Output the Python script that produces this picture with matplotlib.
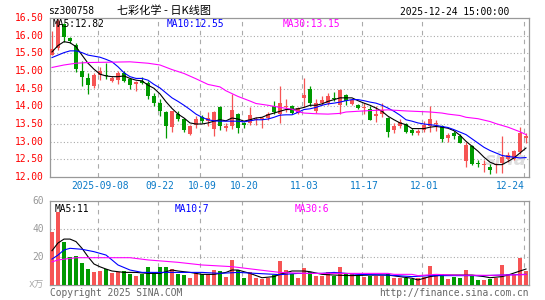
import matplotlib.pyplot as plt
import matplotlib.transforms as mtransforms

# sz300758 daily candles, 80 sessions (2025-08-27 .. 2025-12-24)
opens = [15.46, 15.64, 16.33, 15.92, 15.75, 15.00, 14.80, 14.57, 14.88, 14.89,
         14.73, 14.74, 14.95, 14.77, 14.62, 14.73, 14.67, 14.29, 14.09, 13.85,
         13.41, 13.78, 13.64, 13.22, 13.47, 13.71, 13.58, 13.35, 13.97, 13.40,
         13.43, 13.79, 13.52, 13.53, 13.60, 13.64, 13.66, 14.00, 13.77, 13.97,
         14.00, 13.82, 14.25, 14.49, 13.86, 14.10, 14.10, 14.25, 14.05, 14.31,
         14.08, 14.05, 13.96, 13.93, 13.74, 13.78, 13.68, 13.34, 13.45, 13.50,
         13.34, 13.24, 13.34, 13.44, 13.49, 13.44, 13.09, 13.24, 13.17, 12.44,
         12.89, 12.40, 12.35, 12.29, 12.34, 12.40, 12.51, 12.52, 12.70, 13.10]
highs = [16.12, 16.46, 16.36, 15.96, 15.79, 15.27, 14.94, 14.94, 15.10, 15.23,
         14.87, 15.00, 15.00, 14.80, 14.72, 14.83, 14.72, 14.38, 14.20, 13.87,
         13.88, 13.86, 13.66, 13.46, 13.74, 13.75, 13.85, 13.87, 14.00, 13.52,
         14.35, 13.82, 13.57, 13.97, 13.71, 13.69, 13.83, 14.15, 14.57, 14.22,
         14.03, 13.99, 14.81, 14.58, 14.20, 14.30, 14.39, 14.40, 14.48, 14.35,
         14.20, 14.08, 14.09, 14.00, 14.01, 14.10, 13.71, 13.54, 13.64, 13.52,
         13.38, 13.36, 13.58, 14.00, 13.62, 13.47, 13.25, 13.30, 13.22, 12.98,
         12.90, 12.48, 12.49, 12.36, 12.41, 13.16, 12.70, 12.76, 13.42, 13.24]
lows = [15.44, 15.60, 15.83, 15.79, 14.98, 14.57, 14.35, 14.52, 14.74, 14.76,
        14.68, 14.62, 14.68, 14.50, 14.44, 14.62, 14.20, 14.01, 13.73, 13.11,
        13.28, 13.58, 13.27, 13.20, 13.40, 13.53, 13.44, 13.15, 13.34, 13.29,
        13.37, 13.25, 13.40, 13.47, 13.46, 13.40, 13.60, 13.78, 13.54, 13.83,
        13.77, 13.78, 13.97, 14.00, 13.82, 14.03, 14.05, 14.14, 13.78, 14.05,
        14.03, 13.93, 13.78, 13.60, 13.57, 13.71, 13.12, 13.24, 13.40, 13.25,
        13.20, 13.18, 13.26, 13.28, 13.30, 13.00, 12.98, 13.08, 12.95, 12.29,
        12.34, 12.28, 12.15, 12.08, 12.10, 12.11, 12.42, 12.49, 12.66, 12.96]
closes = [15.62, 16.42, 15.95, 15.85, 15.07, 14.83, 14.61, 14.90, 15.00, 14.85,
          14.79, 14.95, 14.73, 14.60, 14.70, 14.67, 14.29, 14.10, 13.87, 13.43,
          13.87, 13.63, 13.34, 13.43, 13.65, 13.59, 13.66, 13.85, 13.44, 13.42,
          13.90, 13.38, 13.47, 13.75, 13.63, 13.67, 13.78, 13.84, 14.09, 14.00,
          13.80, 13.96, 14.32, 14.09, 14.09, 14.18, 14.29, 14.22, 14.46, 14.14,
          14.17, 13.96, 13.98, 13.62, 13.76, 13.89, 13.28, 13.45, 13.55, 13.28,
          13.25, 13.30, 13.48, 13.64, 13.51, 13.08, 13.19, 13.15, 12.97, 12.91,
          12.38, 12.37, 12.36, 12.19, 12.36, 12.58, 12.61, 12.74, 13.24, 13.16]
# volume, 10k shares
volumes = [38.1, 52.4, 31.0, 20.2, 20.9, 16.0, 11.4, 9.5, 10.2, 11.4,
           8.8, 9.5, 10.0, 7.6, 6.7, 7.9, 13.1, 9.5, 13.1, 13.1,
           11.4, 7.9, 7.1, 5.2, 8.3, 7.6, 7.6, 10.7, 10.0, 6.0,
           17.9, 10.7, 5.2, 9.5, 5.2, 4.3, 5.2, 7.1, 17.1, 10.7,
           7.6, 5.2, 12.4, 9.0, 6.7, 6.7, 9.0, 6.7, 13.1, 8.3,
           7.6, 7.1, 6.0, 6.7, 6.7, 6.7, 7.6, 5.2, 5.2, 4.8,
           4.3, 4.8, 6.0, 13.8, 7.1, 7.6, 4.3, 6.0, 5.2, 10.7,
           6.7, 3.6, 3.6, 4.3, 5.2, 14.3, 7.6, 7.1, 19.5, 10.0]

# moving averages
ma5 = [15.54, 15.72, 15.83, 15.80, 15.69, 15.45, 15.22, 15.05, 14.91, 14.86,
       14.84, 14.84, 14.86, 14.79, 14.74, 14.72, 14.60, 14.51, 14.35, 14.13,
       13.94, 13.78, 13.67, 13.53, 13.50, 13.50, 13.53, 13.58, 13.62, 13.59,
       13.67, 13.64, 13.58, 13.62, 13.67, 13.69, 13.76, 13.81, 13.86, 13.91,
       13.91, 13.93, 13.97, 14.03, 14.03, 14.07, 14.14, 14.19, 14.24, 14.24,
       14.24, 14.16, 14.09, 14.03, 13.95, 13.86, 13.72, 13.62, 13.53, 13.48,
       13.37, 13.37, 13.37, 13.41, 13.43, 13.41, 13.38, 13.31, 13.18, 13.01,
       12.87, 12.73, 12.56, 12.42, 12.35, 12.35, 12.44, 12.54, 12.68, 12.82]
ma10 = [15.38, 15.45, 15.52, 15.57, 15.57, 15.52, 15.45, 15.42, 15.39, 15.33,
        15.26, 15.12, 14.95, 14.84, 14.79, 14.79, 14.74, 14.62, 14.52, 14.38,
        14.24, 14.14, 14.03, 13.91, 13.78, 13.69, 13.62, 13.59, 13.58, 13.58,
        13.58, 13.58, 13.56, 13.59, 13.62, 13.62, 13.64, 13.69, 13.75, 13.76,
        13.76, 13.83, 13.91, 13.93, 13.97, 14.03, 14.07, 14.09, 14.12, 14.16,
        14.19, 14.19, 14.16, 14.12, 14.09, 14.03, 13.95, 13.86, 13.75, 13.62,
        13.58, 13.53, 13.50, 13.48, 13.46, 13.43, 13.40, 13.34, 13.27, 13.20,
        13.08, 12.96, 12.84, 12.75, 12.68, 12.61, 12.58, 12.56, 12.54, 12.55]
ma30_idx = [0, 2, 4, 6, 10, 13, 16, 18, 20, 22, 24, 26, 28, 29, 31, 33, 34, 36,
            38, 40, 41, 42, 44, 46, 48, 49, 51, 53, 56, 59, 63, 65, 66, 68, 69,
            71, 73, 74, 76, 78, 79]
ma30 = [15.10, 15.17, 15.22, 15.24, 15.25, 15.26, 15.22, 15.17, 15.04, 14.93,
        14.78, 14.62, 14.55, 14.44, 14.28, 14.15, 14.08, 14.03, 13.97, 13.92,
        13.85, 13.81, 13.79, 13.78, 13.80, 13.84, 13.86, 13.88, 13.90, 13.87,
        13.84, 13.81, 13.78, 13.74, 13.69, 13.65, 13.57, 13.51, 13.41, 13.28, 13.20]

vma5_idx = [0, 1, 2, 3, 4, 5, 6, 7, 8, 9, 10, 12, 14, 16, 18, 20, 21, 23, 25, 27,
            29, 30, 31, 33, 35, 37, 38, 40, 42, 43, 45, 47, 50, 53, 56, 60, 61, 62,
            63, 65, 67, 70, 72, 73, 75, 76, 78, 79]
vma5 = [24.5, 30.0, 32.8, 32.8, 31.0, 26.2, 20.2, 15.0, 13.0, 11.4, 10.0, 9.0,
        9.0, 8.3, 8.3, 10.7, 10.0, 9.0, 7.6, 7.6, 9.0, 10.7, 10.7, 8.3, 5.2, 6.0,
        7.6, 10.0, 10.0, 9.5, 7.6, 7.1, 6.7, 7.1, 7.1, 4.8, 3.6, 4.8, 6.0, 7.1,
        7.1, 7.1, 6.0, 5.2, 6.0, 7.1, 10.0, 11.4]
vma10_idx = [0, 1, 2, 3, 5, 7, 9, 10, 11, 13, 15, 18, 22, 25, 28, 31, 34, 38, 41,
             45, 47, 51, 56, 60, 63, 67, 72, 75, 79]
vma10 = [18.5, 21.4, 25.0, 26.2, 25.5, 23.8, 21.4, 17.9, 14.3, 10.7, 9.0, 9.0,
         9.0, 9.0, 8.3, 9.0, 8.3, 7.4, 8.3, 8.3, 9.0, 7.6, 7.1, 6.0, 6.7, 6.7,
         6.7, 7.1, 7.6]
vma30_idx = [0, 1, 4, 8, 13, 16, 21, 25, 30, 36, 38, 42, 48, 53, 56, 57, 60, 61,
             64, 67, 73, 79]
vma30 = [16.5, 17.9, 19.5, 19.5, 19.5, 17.9, 16.2, 14.3, 13.1, 10.0, 9.0, 8.3,
         8.3, 8.3, 8.3, 7.6, 7.6, 6.7, 7.6, 7.1, 6.9, 7.4]

# legend values printed on the chart
price_ma_labels = ['MA5:12.82', 'MA10:12.55', 'MA30:13.15']
vol_ma_labels = ['MA5:11', 'MA10:7', 'MA30:6']

date_idx = [8, 18, 25, 32, 42, 52, 62, 79]
date_labels = ['2025-09-08', '09-22', '10-09', '10-20', '11-03', '11-17', '12-01', '12-24']
price_ticks = [12.0, 12.5, 13.0, 13.5, 14.0, 14.5, 15.0, 15.5, 16.0, 16.5]
vol_ticks = [20, 40, 60]

RED = '#f65454'
GREEN = '#009a00'
GRID = '#aaaaaa'
MA_COLORS = ['black', '#0000ff', '#ff00ff']
MONO = 'DejaVu Sans Mono'
FS = 6.9

fig = plt.figure(figsize=(5.45, 3.0), dpi=100)
W, H = 545.0, 300.0


def fig_box(left, top, right, bottom):
    return [left / W, 1 - bottom / H, (right - left) / W, (bottom - top) / H]


ax = fig.add_axes(fig_box(50, 18, 529, 177))
axv = fig.add_axes(fig_box(50, 201, 529, 285))

n = len(closes)
xs = list(range(n))
colors = [RED if c >= o else GREEN for o, c in zip(opens, closes)]

# candles
ax.vlines(xs, lows, highs, colors=colors, lw=0.9, zorder=3)
bottoms = [min(o, c) for o, c in zip(opens, closes)]
heights = [max(abs(c - o), 0.03) for o, c in zip(opens, closes)]
ax.bar(xs, heights, bottom=bottoms, width=0.8, color=colors, lw=0, zorder=4)

ax.plot(xs, ma5, color=MA_COLORS[0], lw=0.8, zorder=5)
ax.plot(xs, ma10, color=MA_COLORS[1], lw=0.8, zorder=5)
ax.plot(ma30_idx, ma30, color=MA_COLORS[2], lw=0.8, zorder=5)

# volume
axv.bar(xs, volumes, width=0.8, color=colors, lw=0, zorder=3)
axv.plot(vma5_idx, vma5, color=MA_COLORS[0], lw=0.8, zorder=5)
axv.plot(vma10_idx, vma10, color=MA_COLORS[1], lw=0.8, zorder=5)
axv.plot(vma30_idx, vma30, color=MA_COLORS[2], lw=0.8, zorder=5)

for a in (ax, axv):
    a.set_xlim(-0.333, 79.5)
    for s in a.spines.values():
        s.set_color('#999999')
        s.set_linewidth(0.9)
    a.set_xticks([])
    a.set_yticks([])
    for d in date_idx:
        a.axvline(d - 0.3, color=GRID, lw=0.8, ls=(0, (4, 4)), zorder=1)

ax.set_ylim(12.0, 16.5)
axv.set_ylim(0, 60)

# y labels and horizontal dotted grid
ptrans = mtransforms.blended_transform_factory(ax.transAxes, ax.transData)
for p in price_ticks:
    ax.text(-0.013, p, '%.2f' % p, transform=ptrans, ha='right', va='center',
            color='#ff0000', fontsize=FS, family=MONO)
    if price_ticks[0] < p < price_ticks[-1]:
        ax.axhline(p, color=GRID, lw=0.8, ls=(0, (1, 2)), zorder=1)

vtrans = mtransforms.blended_transform_factory(axv.transAxes, axv.transData)
for v in vol_ticks:
    axv.text(-0.013, v, str(v), transform=vtrans, ha='right', va='center',
             color='#999999', fontsize=FS, family=MONO)
    if v < vol_ticks[-1]:
        axv.axhline(v, color=GRID, lw=0.8, ls=(0, (1, 2)), zorder=1)

# date labels between the panels
trans = mtransforms.blended_transform_factory(ax.transData, ax.transAxes)
for i, (d, lab) in enumerate(zip(date_idx, date_labels)):
    last = i == len(date_idx) - 1
    ax.text(d - 0.3 if last else d, -0.057, lab, transform=trans,
            ha='right' if last else 'center', va='center',
            color='#0a7ac8', fontsize=FS, family=MONO)

# legends inside panels
for lab, col, xpos in zip(price_ma_labels, MA_COLORS, [0.006, 0.244, 0.486]):
    ax.text(xpos, 0.965, lab, transform=ax.transAxes, ha='left', va='center',
            color=col, fontsize=FS, family=MONO, zorder=6)
for lab, col, xpos in zip(vol_ma_labels, MA_COLORS, [0.01, 0.261, 0.511]):
    axv.text(xpos, 0.9, lab, transform=axv.transAxes, ha='left', va='center',
             color=col, fontsize=FS, family=MONO, zorder=6)

# sina watermark
ax.text(0.995, 0.05, 'sina', transform=ax.transAxes, ha='right', va='bottom',
        color='#dddddd', fontsize=13, fontweight='bold', style='italic', zorder=2)

# header and footer
fig.text(48 / W, 1 - 11 / H, 'sz300758', ha='left', va='center', fontsize=FS, family=MONO)
fig.text(117 / W, 1 - 11 / H, '七彩化学 - 日K线图', ha='left', va='center', fontsize=8,
         family=['Noto Sans CJK SC', 'DejaVu Sans'])
fig.text(509 / W, 1 - 12 / H, '2025-12-24 15:00:00', ha='right', va='center',
         fontsize=FS, family=MONO)
fig.text(44 / W, 1 - 284 / H, 'x万', ha='right', va='center', color='#aaaaaa', fontsize=FS,
         family=['DejaVu Sans Mono', 'Noto Sans CJK SC'])
fig.text(50 / W, 1 - 293 / H, 'Copyright 2025 SINA.COM', ha='left', va='center',
         color='#666666', fontsize=FS, family=MONO)
fig.text(529 / W, 1 - 293 / H, 'http://finance.sina.com.cn', ha='right', va='center',
         color='#666666', fontsize=FS, family=MONO)

fig.savefig('out.png', dpi=100)
